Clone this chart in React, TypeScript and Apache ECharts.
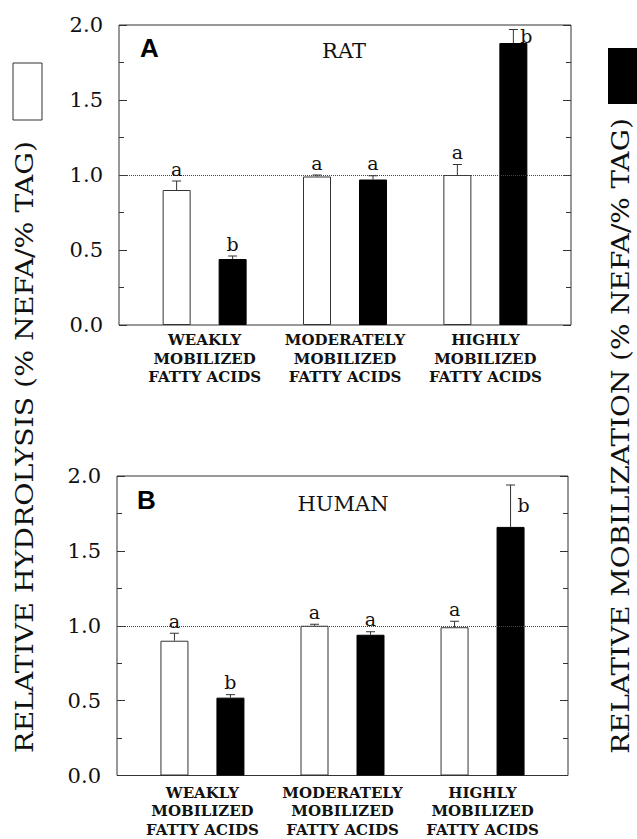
import React, { useEffect, useRef } from "react";
import * as echarts from "echarts";

const categories = [
  "WEAKLY\nMOBILIZED\nFATTY ACIDS",
  "MODERATELY\nMOBILIZED\nFATTY ACIDS",
  "HIGHLY\nMOBILIZED\nFATTY ACIDS",
];
const groupPos = [1, 2, 3];
const yTicks = [0, 0.5, 1.0, 1.5, 2.0];

const ratHydrolysis = [0.9, 0.99, 1.0];
const ratHydrolysisErr = [0.06, 0.01, 0.07];
const ratMobilization = [0.44, 0.97, 1.88];
const ratMobilizationErr = [0.02, 0.025, 0.09];
const ratHydLetters = ["a", "a", "a"];
const ratMobLetters = ["b", "a", "b"];

const humanHydrolysis = [0.9, 1.0, 0.99];
const humanHydrolysisErr = [0.05, 0.01, 0.04];
const humanMobilization = [0.52, 0.94, 1.66];
const humanMobilizationErr = [0.02, 0.02, 0.28];
const humanHydLetters = ["a", "a", "a"];
const humanMobLetters = ["b", "a", "b"];

const SERIF = "'DejaVu Serif', 'Liberation Serif', serif";
const INK = "#111";

function errSeries(
  idx: number,
  vals: number[],
  errs: number[],
  letters: string[],
  offset: number,
  tallDy: number
) {
  return {
    type: "custom",
    xAxisIndex: idx,
    yAxisIndex: idx * 2,
    z: 5,
    data: groupPos.map((x, i) => [x, vals[i], errs[i]]),
    renderItem: (params: any, api: any) => {
      const x = api.value(0);
      const y = api.value(1);
      const e = api.value(2);
      const base = api.coord([x, y]);
      const top = api.coord([x, y + e]);
      const cx = base[0] + offset;
      const tall = y + e > 1.85;
      const letter = letters[params.dataIndex];
      return {
        type: "group",
        children: [
          {
            type: "line",
            shape: { x1: cx, y1: base[1], x2: cx, y2: top[1] },
            style: { stroke: "#333", lineWidth: 1 },
          },
          {
            type: "line",
            shape: { x1: cx - 4.5, y1: top[1], x2: cx + 4.5, y2: top[1] },
            style: { stroke: "#333", lineWidth: 1 },
          },
          {
            type: "text",
            style: {
              text: letter,
              x: tall ? cx + 7 : cx,
              y: tall ? top[1] + tallDy : top[1] - 3,
              align: tall ? "left" : "center",
              verticalAlign: tall ? "middle" : "bottom",
              fontSize: 19,
              fontFamily: SERIF,
              fill: INK,
            },
          },
        ],
      };
    },
  };
}

function barSeries(idx: number, vals: number[], white: boolean) {
  const s: any = {
    type: "bar",
    xAxisIndex: idx,
    yAxisIndex: idx * 2,
    barWidth: 28,
    barGap: "100%",
    data: groupPos.map((x, i) => [x, vals[i]]),
    itemStyle: white
      ? { color: "#ffffff", borderColor: "#333", borderWidth: 1 }
      : { color: "#000000", borderColor: "#000", borderWidth: 1 },
  };
  if (white) {
    s.markLine = {
      silent: true,
      symbol: ["none", "none"],
      label: { show: false },
      lineStyle: { type: "dotted", color: "#444", width: 1 },
      data: [{ yAxis: 1 }],
    };
  }
  return s;
}

function xAxisFor(gridIndex: number, margin: number) {
  return {
    type: "value",
    gridIndex,
    min: 0.39,
    max: 3.61,
    axisLine: { show: false },
    axisTick: { show: false },
    splitLine: { show: false },
    axisLabel: {
      customValues: groupPos,
      formatter: (v: number) => categories[Math.round(v) - 1] ?? "",
      fontFamily: SERIF,
      fontWeight: "bold",
      fontSize: 15,
      lineHeight: 18.5,
      color: INK,
      margin,
    },
  };
}

function yAxesFor(gridIndex: number) {
  const tickStyle = { color: "#333", width: 1 };
  return [
    {
      type: "value",
      gridIndex,
      min: 0,
      max: 2,
      interval: 0.5,
      position: "left",
      axisLine: { show: false },
      axisTick: { show: true, inside: true, length: 8, lineStyle: tickStyle },
      minorTick: { show: true, splitNumber: 2, length: 5, lineStyle: tickStyle },
      splitLine: { show: false },
      axisLabel: {
        customValues: yTicks,
        formatter: (v: number) => v.toFixed(1),
        fontFamily: SERIF,
        fontSize: 21,
        color: INK,
        margin: 16,
      },
    },
    {
      type: "value",
      gridIndex,
      min: 0,
      max: 2,
      interval: 0.5,
      position: "right",
      axisLine: { show: false },
      axisTick: { show: true, inside: true, length: 8, lineStyle: tickStyle },
      minorTick: { show: true, splitNumber: 2, length: 5, lineStyle: tickStyle },
      splitLine: { show: false },
      axisLabel: { show: false },
    },
  ];
}

export default function App() {
  const ref = useRef<HTMLDivElement>(null);
  useEffect(() => {
    if (!ref.current) return;
    const chart = echarts.init(ref.current, null, { renderer: "svg" });
    const option: any = {
      animation: false,
      backgroundColor: "#ffffff",
      grid: [
        { left: 119, top: 25, width: 452, height: 300, show: true, borderColor: "#333", borderWidth: 1, backgroundColor: "transparent" },
        { left: 117, top: 476, width: 451, height: 302, show: true, borderColor: "#333", borderWidth: 1, backgroundColor: "transparent" },
      ],
      xAxis: [xAxisFor(0, 6), xAxisFor(1, 8)],
      yAxis: [...yAxesFor(0), ...yAxesFor(1)],
      series: [
        barSeries(0, ratHydrolysis, true),
        barSeries(0, ratMobilization, false),
        errSeries(0, ratHydrolysis, ratHydrolysisErr, ratHydLetters, -28, 6),
        errSeries(0, ratMobilization, ratMobilizationErr, ratMobLetters, 28, 6),
        barSeries(1, humanHydrolysis, true),
        barSeries(1, humanMobilization, false),
        errSeries(1, humanHydrolysis, humanHydrolysisErr, humanHydLetters, -28, 20),
        errSeries(1, humanMobilization, humanMobilizationErr, humanMobLetters, 28, 20),
      ],
      graphic: [
        { type: "text", left: 140, top: 35, style: { text: "A", fontFamily: "Liberation Sans", fontWeight: "bold", fontSize: 26, fill: "#000" } },
        { type: "text", x: 344, y: 51, style: { text: "RAT", align: "center", verticalAlign: "middle", fontFamily: SERIF, fontSize: 21, fill: INK } },
        { type: "text", left: 137, top: 487, style: { text: "B", fontFamily: "Liberation Sans", fontWeight: "bold", fontSize: 26, fill: "#000" } },
        { type: "text", x: 343, y: 504, style: { text: "HUMAN", align: "center", verticalAlign: "middle", fontFamily: SERIF, fontSize: 21, fill: INK } },
        {
          type: "text",
          x: 25,
          y: 447,
          rotation: Math.PI / 2,
          scaleX: 1.18,
          style: { text: "RELATIVE HYDROLYSIS (% NEFA/% TAG)", align: "center", verticalAlign: "middle", fontFamily: SERIF, fontSize: 24, fill: INK },
        },
        {
          type: "text",
          x: 621,
          y: 436,
          rotation: Math.PI / 2,
          scaleX: 1.16,
          style: { text: "RELATIVE MOBILIZATION (% NEFA/% TAG)", align: "center", verticalAlign: "middle", fontFamily: SERIF, fontSize: 24, fill: INK },
        },
        { type: "rect", shape: { x: 13, y: 63, width: 29, height: 57 }, style: { fill: "#fff", stroke: "#333", lineWidth: 1 } },
        { type: "rect", shape: { x: 608, y: 48, width: 30, height: 56 }, style: { fill: "#000" } },
      ],
    };
    chart.setOption(option);
    return () => chart.dispose();
  }, []);
  return (
    <div
      ref={ref}
      style={{ position: "fixed", left: 0, top: 0, width: 637, height: 839, background: "#fff" }}
    />
  );
}
